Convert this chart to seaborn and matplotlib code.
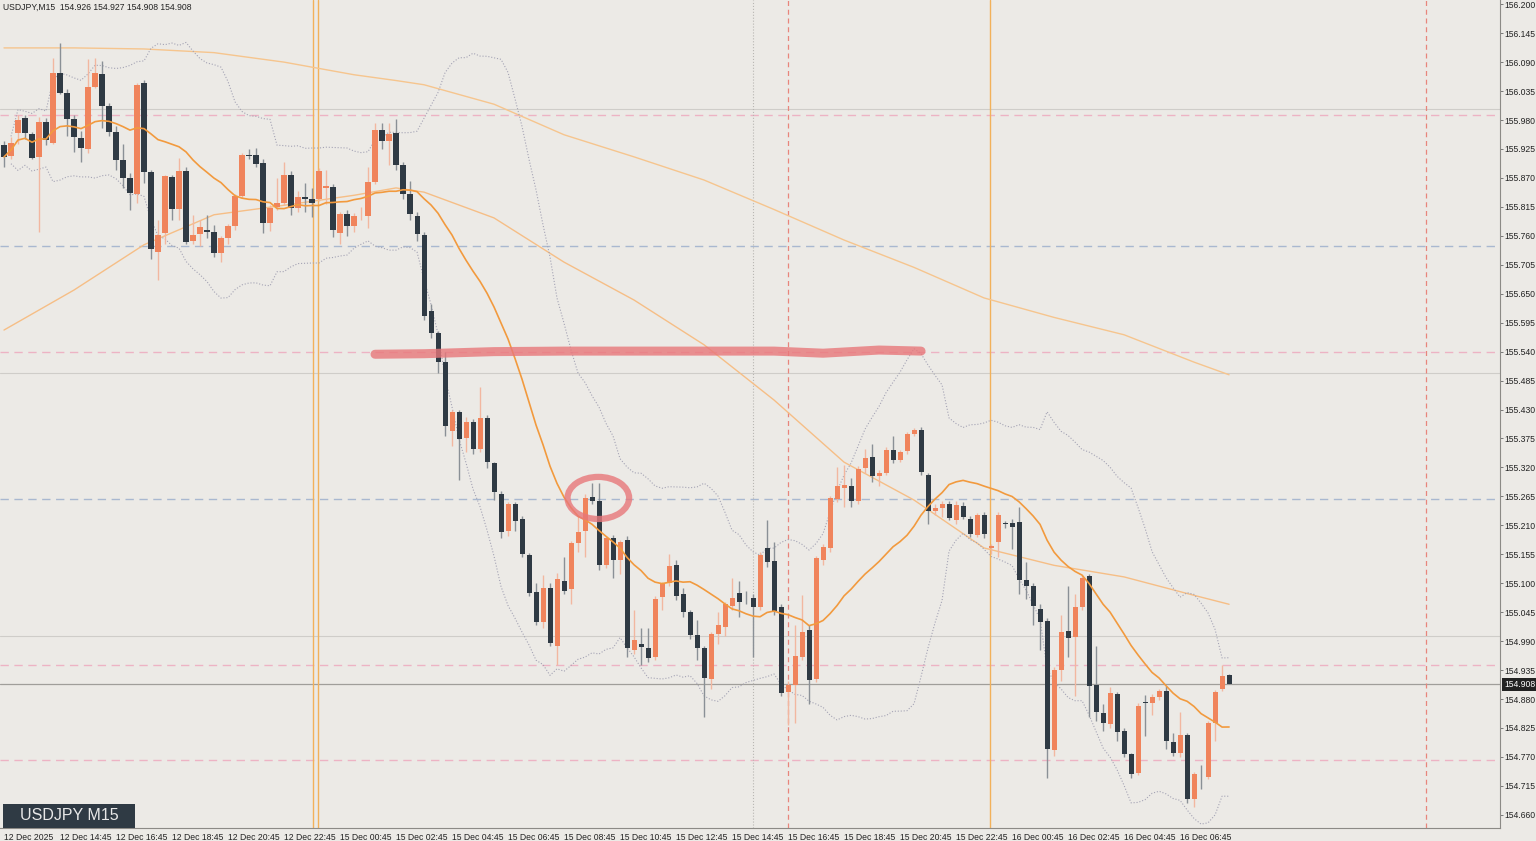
import numpy as np
import pandas as pd
import seaborn as sns
import matplotlib.pyplot as plt
from matplotlib.patches import Ellipse, Rectangle

# ---- data (USDJPY M15) ----
opens = [155.932, 155.912, 155.955, 155.984, 155.953, 155.910, 155.976, 155.936, 156.069, 156.031,
         155.982, 155.946, 155.925, 156.043, 156.067, 156.007, 155.957, 155.904, 155.870, 155.840,
         156.050, 155.881, 155.729, 155.765, 155.872, 155.811, 155.883, 155.750, 155.763, 155.771,
         155.767, 155.727, 155.756, 155.779, 155.836, 155.914, 155.914, 155.898, 155.784, 155.815,
         155.822, 155.876, 155.813, 155.834, 155.830, 155.830, 155.851, 155.853, 155.765, 155.801,
         155.779, 155.801, 155.798, 155.862, 155.961, 155.940, 155.955, 155.895, 155.840, 155.798,
         155.762, 155.617, 155.575, 155.520, 155.389, 155.425, 155.376, 155.406, 155.355, 155.414,
         155.328, 155.269, 155.199, 155.250, 155.222, 155.154, 155.083, 155.026, 155.091, 154.981,
         155.104, 155.089, 155.176, 155.199, 155.264, 155.256, 155.135, 155.186, 155.144, 155.182,
         154.973, 154.984, 154.977, 154.960, 155.074, 155.100, 155.135, 155.079, 155.045, 155.002,
         154.977, 154.918, 155.003, 155.017, 155.057, 155.081, 155.072, 155.072, 155.055, 155.167,
         155.142, 155.055, 154.893, 154.907, 154.960, 155.011, 154.918, 155.144, 155.167, 155.260,
         155.281, 155.285, 155.256, 155.319, 155.340, 155.304, 155.309, 155.353, 155.334, 155.351,
         155.383, 155.391, 155.306, 155.237, 155.243, 155.250, 155.220, 155.247, 155.222, 155.192,
         155.230, 155.167, 155.178, 155.214, 155.214, 155.216, 155.106, 155.095, 155.051, 155.028,
         154.783, 154.935, 155.009, 154.998, 155.055, 155.114, 154.907, 154.853, 154.832, 154.889,
         154.819, 154.775, 154.739, 154.874, 154.872, 154.884, 154.895, 154.798, 154.777, 154.812,
         154.690, 154.736, 154.732, 154.834, 154.899, 154.926]
closes = [155.910, 155.936, 155.980, 155.955, 155.908, 155.976, 155.942, 156.069, 156.031, 155.982,
          155.948, 155.927, 156.043, 156.069, 156.007, 155.957, 155.904, 155.870, 155.841, 156.047,
          155.881, 155.735, 155.762, 155.874, 155.811, 155.883, 155.748, 155.762, 155.777, 155.767,
          155.727, 155.756, 155.779, 155.836, 155.914, 155.912, 155.896, 155.784, 155.813, 155.822,
          155.876, 155.813, 155.834, 155.830, 155.822, 155.883, 155.855, 155.771, 155.801, 155.779,
          155.798, 155.801, 155.862, 155.961, 155.940, 155.953, 155.895, 155.840, 155.801, 155.763,
          155.608, 155.575, 155.520, 155.399, 155.425, 155.374, 155.406, 155.355, 155.414, 155.330,
          155.273, 155.197, 155.250, 155.218, 155.155, 155.081, 155.026, 155.091, 154.986, 155.108,
          155.085, 155.176, 155.197, 155.262, 155.256, 155.135, 155.186, 155.144, 155.178, 154.977,
          154.992, 154.979, 154.958, 155.070, 155.098, 155.133, 155.076, 155.045, 155.002, 154.977,
          154.920, 155.003, 155.020, 155.060, 155.072, 155.064, 155.071, 155.055, 155.154, 155.140,
          155.047, 154.891, 154.907, 154.962, 155.007, 154.916, 155.148, 155.169, 155.262, 155.285,
          155.287, 155.256, 155.317, 155.338, 155.304, 155.309, 155.353, 155.334, 155.349, 155.383,
          155.391, 155.311, 155.237, 155.243, 155.250, 155.224, 155.249, 155.226, 155.193, 155.230,
          155.193, 155.171, 155.230, 155.213, 155.207, 155.106, 155.095, 155.057, 155.026, 154.785,
          154.935, 155.007, 154.996, 155.055, 155.110, 154.905, 154.855, 154.834, 154.891, 154.817,
          154.775, 154.737, 154.867, 154.873, 154.884, 154.895, 154.800, 154.777, 154.812, 154.690,
          154.737, 154.735, 154.834, 154.893, 154.924, 154.908]
highs = [155.940, 155.948, 155.990, 155.990, 155.958, 155.985, 155.984, 156.098, 156.126, 156.038,
         155.990, 155.960, 156.096, 156.098, 156.092, 156.013, 155.968, 155.935, 155.880, 156.050,
         156.056, 155.885, 155.790, 155.876, 155.876, 155.907, 155.890, 155.800, 155.790, 155.800,
         155.780, 155.760, 155.783, 155.840, 155.918, 155.925, 155.926, 155.905, 155.818, 155.870,
         155.900, 155.884, 155.845, 155.860, 155.850, 155.888, 155.885, 155.858, 155.806, 155.810,
         155.803, 155.815, 155.890, 155.975, 155.975, 155.975, 155.982, 155.900, 155.865, 155.805,
         155.768, 155.630, 155.580, 155.540, 155.430, 155.430, 155.415, 155.412, 155.472, 155.420,
         155.330, 155.275, 155.255, 155.255, 155.228, 155.158, 155.100, 155.115, 155.101, 155.120,
         155.150, 155.180, 155.230, 155.270, 155.290, 155.290, 155.190, 155.192, 155.182, 155.190,
         155.050, 155.015, 155.015, 155.075, 155.102, 155.155, 155.145, 155.090, 155.050, 155.030,
         154.980, 155.008, 155.045, 155.064, 155.110, 155.105, 155.085, 155.080, 155.160, 155.220,
         155.178, 155.060, 154.915, 155.020, 155.078, 155.020, 155.152, 155.175, 155.265, 155.320,
         155.325, 155.300, 155.322, 155.355, 155.365, 155.315, 155.358, 155.380, 155.354, 155.388,
         155.395, 155.396, 155.310, 155.250, 155.256, 155.256, 155.256, 155.255, 155.228, 155.234,
         155.236, 155.175, 155.236, 155.218, 155.222, 155.245, 155.140, 155.100, 155.060, 155.033,
         154.940, 155.040, 155.095, 155.080, 155.115, 155.118, 154.980, 154.870, 154.903, 154.893,
         154.825, 154.778, 154.872, 154.888, 154.890, 154.900, 154.905, 154.815, 154.855, 154.815,
         154.742, 154.755, 154.838, 154.897, 154.945, 154.927]
lows = [155.891, 155.905, 155.935, 155.944, 155.905, 155.767, 155.932, 155.934, 156.029, 155.949,
        155.919, 155.900, 155.918, 156.040, 155.965, 155.950, 155.885, 155.850, 155.810, 155.822,
        155.860, 155.716, 155.676, 155.745, 155.790, 155.790, 155.745, 155.745, 155.740, 155.755,
        155.720, 155.710, 155.745, 155.772, 155.832, 155.905, 155.890, 155.765, 155.770, 155.810,
        155.818, 155.800, 155.805, 155.806, 155.795, 155.826, 155.820, 155.758, 155.745, 155.760,
        155.768, 155.790, 155.775, 155.858, 155.925, 155.895, 155.885, 155.830, 155.790, 155.750,
        155.600, 155.565, 155.500, 155.380, 155.360, 155.296, 155.350, 155.345, 155.350, 155.318,
        155.258, 155.185, 155.190, 155.200, 155.150, 155.075, 155.020, 155.015, 154.980, 154.945,
        155.080, 155.060, 155.160, 155.150, 155.250, 155.125, 155.128, 155.110, 155.118, 154.960,
        154.965, 154.945, 154.950, 154.955, 155.050, 155.095, 155.068, 155.035, 154.995, 154.955,
        154.846, 154.900, 154.985, 155.000, 155.050, 155.035, 155.060, 154.960, 155.050, 155.130,
        155.040, 154.885, 154.831, 154.835, 154.955, 154.870, 154.912, 155.135, 155.160, 155.255,
        155.245, 155.245, 155.250, 155.310, 155.292, 155.285, 155.305, 155.328, 155.330, 155.345,
        155.380, 155.305, 155.212, 155.230, 155.225, 155.220, 155.212, 155.222, 155.188, 155.188,
        155.186, 155.155, 155.150, 155.205, 155.165, 155.080, 155.070, 155.020, 154.973, 154.730,
        154.772, 154.915, 154.960, 154.885, 155.050, 154.845, 154.838, 154.820, 154.825, 154.800,
        154.770, 154.730, 154.735, 154.810, 154.850, 154.878, 154.785, 154.772, 154.770, 154.683,
        154.675, 154.710, 154.728, 154.800, 154.895, 154.908]

# slower moving averages, sampled off the chart at these candle indices
ma_idx = [0, 10, 20, 30, 40, 50, 56, 60, 70, 80, 90, 100, 110, 120, 130, 140, 150, 160, 170, 175]
ma_mid = [155.581, 155.657, 155.743, 155.800, 155.818, 155.837, 155.851, 155.843, 155.794, 155.710,
          155.638, 155.553, 155.448, 155.330, 155.258, 155.167, 155.134, 155.112, 155.077, 155.060]
ma_slow = [156.117, 156.117, 156.115, 156.108, 156.090, 156.066, 156.055, 156.047, 156.010, 155.952,
           155.910, 155.866, 155.810, 155.752, 155.700, 155.642, 155.605, 155.572, 155.520, 155.496]

time_labels = ["12 Dec 2025", "12 Dec 14:45", "12 Dec 16:45", "12 Dec 18:45", "12 Dec 20:45",
               "12 Dec 22:45", "15 Dec 00:45", "15 Dec 02:45", "15 Dec 04:45", "15 Dec 06:45",
               "15 Dec 08:45", "15 Dec 10:45", "15 Dec 12:45", "15 Dec 14:45", "15 Dec 16:45",
               "15 Dec 18:45", "15 Dec 20:45", "15 Dec 22:45", "16 Dec 00:45", "16 Dec 02:45",
               "16 Dec 04:45", "16 Dec 06:45"]
pink_levels = [155.990, 155.540, 154.945, 154.765]
blue_levels = [155.740, 155.260]
gray_levels = [156.000, 155.500, 155.000]
last_price = 154.908

BG = "#ECEAE6"
BULL = "#F0845C"
BEAR = "#2F3A44"
TICKFONT = dict(fontsize=6.2, color="#222222", family="Liberation Sans")

sns.set_theme(style="white")
plt.rcParams['font.family'] = ['Liberation Sans', 'DejaVu Sans']

df = pd.DataFrame({"open": opens, "high": highs, "low": lows, "close": closes})
df["i"] = np.arange(len(df))
df["sma20"] = df["close"].rolling(20, min_periods=1).mean()
sd = df["close"].rolling(20, min_periods=2).std(ddof=0)
df["bb_up"] = df["sma20"] + 2 * sd
df["bb_dn"] = df["sma20"] - 2 * sd

fig = plt.figure(figsize=(15.36, 8.41), dpi=100, facecolor=BG)
ax = fig.add_axes([0.0, 13 / 841, 1500 / 1536, 828 / 841])
ax.set_facecolor(BG)

# reference lines
for lv in gray_levels:
    ax.axhline(lv, color="#CFCDC9", lw=0.8, zorder=0)
for lv in pink_levels:
    ax.axhline(lv, color="#EDB3C4", lw=1, ls=(0, (6, 4)), zorder=0)
for lv in blue_levels:
    ax.axhline(lv, color="#A9B8D0", lw=1, ls=(0, (6, 4)), zorder=0)
ax.axhline(last_price, color="#A09E9A", lw=0.9, zorder=0)
for xv in [44.2, 44.9, 140.9]:
    ax.axvline(xv, color="#F2B15A", lw=1, zorder=0)
ax.axvline(107.0, color="#B8B6B2", lw=0.8, ls=":", zorder=0)
for xv in [112.0, 203.1]:
    ax.axvline(xv, color="#E8857C", lw=0.9, ls=(0, (4, 3)), zorder=0)

# indicators
sns.lineplot(x=ma_idx, y=ma_slow, ax=ax, color="#F6C58E", lw=1, zorder=1)
sns.lineplot(x=ma_idx, y=ma_mid, ax=ax, color="#F6BE86", lw=1, zorder=1)
sns.lineplot(data=df, x="i", y="bb_up", ax=ax, color="#A4A3B4", lw=0.8, ls=":", zorder=1)
sns.lineplot(data=df, x="i", y="bb_dn", ax=ax, color="#A4A3B4", lw=0.8, ls=":", zorder=1)

# candles
bull = df["close"] >= df["open"]
for up, col, wcol in [(True, BULL, "#F2B7A0"), (False, BEAR, "#8A9096")]:
    d = df[bull == up]
    ax.vlines(d["i"], d["low"], d["high"], color=wcol, lw=1, zorder=2)
    bottom = np.minimum(d["open"], d["close"])
    height = np.maximum((d["close"] - d["open"]).abs(), 0.0012)
    ax.bar(d["i"], height, bottom=bottom, width=0.72, color=col, lw=0, zorder=3)

sns.lineplot(data=df, x="i", y="sma20", ax=ax, color="#F29A3E", lw=1.2, zorder=4)

# hand-drawn annotations
ax.plot([53, 60, 70, 80, 95, 110, 117, 125, 131], [155.535, 155.536, 155.540, 155.541, 155.541,
        155.541, 155.537, 155.543, 155.541], color="#E8777A", lw=6.5, alpha=0.8,
        solid_capstyle="round", zorder=5)
ax.add_patch(Ellipse((84.9, 155.262), 8.8, 0.08, fill=False, ec="#E8777A", lw=4.5, alpha=0.8, zorder=5))

ax.set_xlim(-0.57, 213.7)
ax.set_ylim(154.635, 156.208)
ax.set_xlabel("")
ax.set_ylabel("")
ax.yaxis.tick_right()
yt = np.round(np.arange(154.660, 156.201, 0.055), 3)
ax.set_yticks(yt)
ax.set_yticklabels([f"{v:.3f}" for v in yt], **TICKFONT)
ax.set_xticks(np.arange(0, 8 * len(time_labels), 8))
ax.set_xticklabels(time_labels, ha="left", **TICKFONT)
ax.tick_params(axis="both", length=2.5, width=0.6, color="#666666", pad=1, direction="out")
for s in ["left", "top"]:
    ax.spines[s].set_visible(False)
for s in ["right", "bottom"]:
    ax.spines[s].set_color("#8C8A86")
    ax.spines[s].set_linewidth(0.8)

ax.text(0.002, 0.997, "USDJPY,M15  154.926 154.927 154.908 154.908", transform=ax.transAxes,
        va="top", ha="left", **TICKFONT)
ax.text(1.003, (last_price - 154.635) / (156.208 - 154.635), f"{last_price:.3f}",
        transform=ax.transAxes, fontsize=6.2, va="center", ha="left", color="white",
        bbox=dict(boxstyle="square,pad=0.25", fc="#222222", ec="none"))
ax.add_patch(Rectangle((0.002, 0.0), 0.088, 0.029, transform=ax.transAxes, fc="#2F3A44",
                       ec="none", zorder=6))
ax.text(0.046, 0.0145, "USDJPY M15", transform=ax.transAxes, fontsize=11.5, color="#E8E8E8",
        ha="center", va="center", zorder=7)

plt.savefig("out.png", dpi=100, facecolor=BG)
